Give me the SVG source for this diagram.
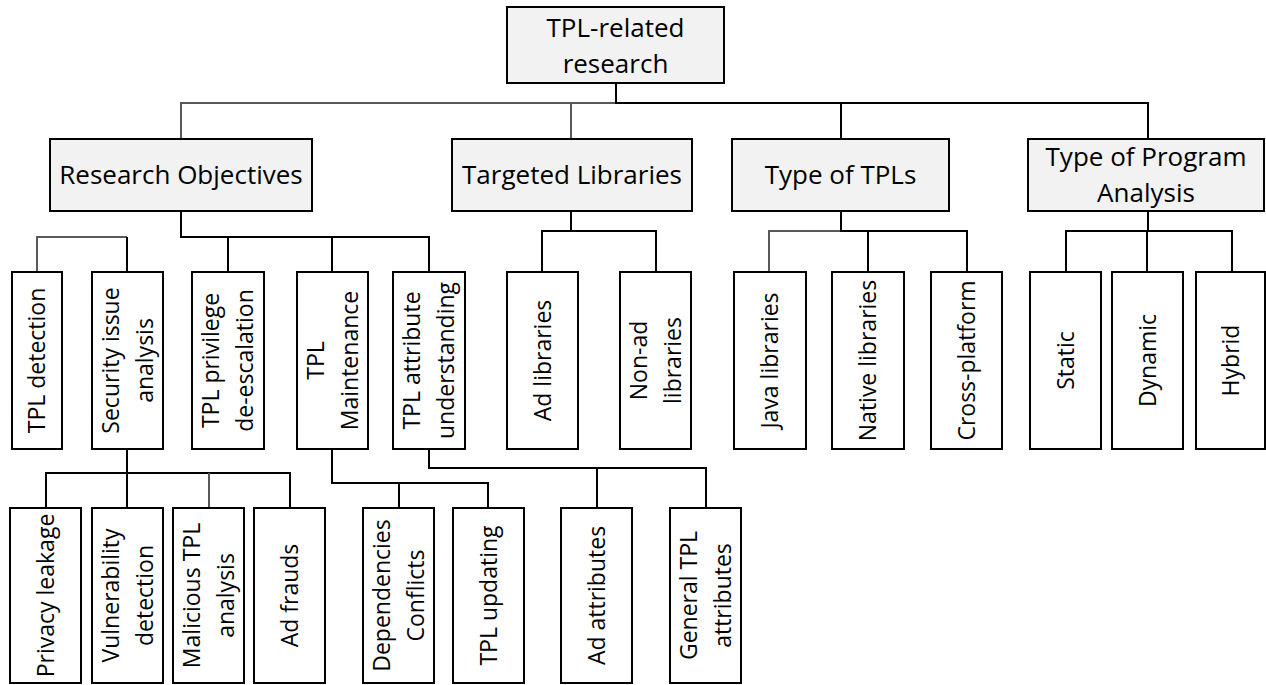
<svg xmlns="http://www.w3.org/2000/svg" width="1266" height="685" viewBox="0 0 1266 685">
<style>
.box{fill:#ffffff;stroke:#000;stroke-width:2}
.hbox{fill:#f2f2f2;stroke:#000;stroke-width:2}
.t{font-family:"Open Sans","Noto Sans",sans-serif;fill:#000;text-anchor:middle}
.l1{font-size:26px}
.l3{font-size:23px}
.c{fill:none;stroke:#000;stroke-width:2}
.g{stroke:#595959}
</style>
<rect width="1266" height="685" fill="#ffffff"/>
<g id="connectors">
  <path class="c g" d="M616,103 H181 V139 M571,103 V139"/>
  <path class="c" d="M616,83 V103 H1148 V139 M841,103 V139"/>
  <path class="c g" d="M127,237 H37 V272"/>
  <path class="c" d="M181,211 V237 H429 V272 M127,237 V272 M228,237 V272 M332,237 V272"/>
  <path class="c" d="M571,211 V231 M542,272 V231 H656 V272"/>
  <path class="c g" d="M841,231 H769 V272"/>
  <path class="c" d="M841,211 V231 H967 V272 M868,231 V272"/>
  <path class="c" d="M1148,211 V231 M1066,272 V231 H1232 V272 M1147,231 V272"/>
  <path class="c" d="M127,449 V473 M46,508 V473 H290 V508 M127,473 V508"/>
  <path class="c g" d="M209,473 V508"/>
  <path class="c" d="M332,449 V483 H488 V508 M399,483 V508"/>
  <path class="c" d="M429,449 V468 H706 V508 M597,468 V508"/>
</g>
<g id="root">
  <rect class="hbox" x="507" y="7" width="217" height="76"/>
  <text class="t l1" x="615.5" y="37">TPL-related</text>
  <text class="t l1" x="615.5" y="73">research</text>
</g>
<g id="research-objectives">
  <rect class="hbox" x="50" y="139" width="262" height="72"/>
  <text class="t l1" x="181" y="184">Research Objectives</text>
</g>
<g id="targeted-libraries">
  <rect class="hbox" x="452" y="139" width="240" height="72"/>
  <text class="t l1" x="572" y="184">Targeted Libraries</text>
</g>
<g id="type-of-tpls">
  <rect class="hbox" x="732" y="139" width="217" height="72"/>
  <text class="t l1" x="840.5" y="184">Type of TPLs</text>
</g>
<g id="type-of-program-analysis">
  <rect class="hbox" x="1028" y="139" width="236" height="72"/>
  <text class="t l1" x="1146" y="166">Type of Program</text>
  <text class="t l1" x="1146" y="202">Analysis</text>
</g>
<g id="tpl-detection">
  <rect class="box" x="12" y="272" width="50" height="177"/>
  <text class="t l3" transform="translate(37,360.5) rotate(-90)" y="8">TPL detection</text>
</g>
<g id="security-issue-analysis">
  <rect class="box" x="92" y="272" width="71" height="177"/>
  <g class="t l3" transform="translate(127.5,360.5) rotate(-90)"><text y="-9">Security issue</text><text y="25">analysis</text></g>
</g>
<g id="tpl-privilege">
  <rect class="box" x="192" y="272" width="72" height="177"/>
  <g class="t l3" transform="translate(228,360.5) rotate(-90)"><text y="-9">TPL privilege</text><text y="25">de-escalation</text></g>
</g>
<g id="tpl-maintenance">
  <rect class="box" x="297" y="272" width="71" height="177"/>
  <g class="t l3" transform="translate(332.5,360.5) rotate(-90)"><text y="-9">TPL</text><text y="25">Maintenance</text></g>
</g>
<g id="tpl-attribute">
  <rect class="box" x="393" y="272" width="72" height="177"/>
  <g class="t l3" transform="translate(429,360.5) rotate(-90)"><text y="-9">TPL attribute</text><text y="25">understanding</text></g>
</g>
<g id="ad-libraries">
  <rect class="box" x="507" y="272" width="71" height="177"/>
  <text class="t l3" transform="translate(542.5,360.5) rotate(-90)" y="8">Ad libraries</text>
</g>
<g id="non-ad-libraries">
  <rect class="box" x="620" y="272" width="71" height="177"/>
  <g class="t l3" transform="translate(655.5,360.5) rotate(-90)"><text y="-9">Non-ad</text><text y="25">libraries</text></g>
</g>
<g id="java-libraries">
  <rect class="box" x="734" y="272" width="72" height="177"/>
  <text class="t l3" transform="translate(770,360.5) rotate(-90)" y="8">Java libraries</text>
</g>
<g id="native-libraries">
  <rect class="box" x="832" y="272" width="72" height="177"/>
  <text class="t l3" transform="translate(868,360.5) rotate(-90)" y="8">Native libraries</text>
</g>
<g id="cross-platform">
  <rect class="box" x="931" y="272" width="71" height="177"/>
  <text class="t l3" transform="translate(966.5,360.5) rotate(-90)" y="8">Cross-platform</text>
</g>
<g id="static">
  <rect class="box" x="1030" y="272" width="71" height="177"/>
  <text class="t l3" transform="translate(1065.5,360.5) rotate(-90)" y="8">Static</text>
</g>
<g id="dynamic">
  <rect class="box" x="1112" y="272" width="71" height="177"/>
  <text class="t l3" transform="translate(1147.5,360.5) rotate(-90)" y="8">Dynamic</text>
</g>
<g id="hybrid">
  <rect class="box" x="1196" y="272" width="69" height="177"/>
  <text class="t l3" transform="translate(1230.5,360.5) rotate(-90)" y="8">Hybrid</text>
</g>
<g id="privacy-leakage">
  <rect class="box" x="10" y="508" width="71" height="175"/>
  <text class="t l3" transform="translate(45.5,595.5) rotate(-90)" y="8">Privacy leakage</text>
</g>
<g id="vulnerability-detection">
  <rect class="box" x="92" y="508" width="71" height="175"/>
  <g class="t l3" transform="translate(127.5,595.5) rotate(-90)"><text y="-9">Vulnerability</text><text y="25">detection</text></g>
</g>
<g id="malicious-tpl-analysis">
  <rect class="box" x="173" y="508" width="71" height="175"/>
  <g class="t l3" transform="translate(208.5,595.5) rotate(-90)"><text y="-9">Malicious TPL</text><text y="25">analysis</text></g>
</g>
<g id="ad-frauds">
  <rect class="box" x="254" y="508" width="71" height="175"/>
  <text class="t l3" transform="translate(289.5,595.5) rotate(-90)" y="8">Ad frauds</text>
</g>
<g id="dependencies-conflicts">
  <rect class="box" x="363" y="508" width="71" height="175"/>
  <g class="t l3" transform="translate(398.5,595.5) rotate(-90)"><text y="-9">Dependencies</text><text y="25">Conflicts</text></g>
</g>
<g id="tpl-updating">
  <rect class="box" x="453" y="508" width="71" height="175"/>
  <text class="t l3" transform="translate(488.5,595.5) rotate(-90)" y="8">TPL updating</text>
</g>
<g id="ad-attributes">
  <rect class="box" x="561" y="508" width="71" height="175"/>
  <text class="t l3" transform="translate(596.5,595.5) rotate(-90)" y="8">Ad attributes</text>
</g>
<g id="general-tpl-attributes">
  <rect class="box" x="670" y="508" width="71" height="175"/>
  <g class="t l3" transform="translate(705.5,595.5) rotate(-90)"><text y="-9">General TPL</text><text y="25">attributes</text></g>
</g>
</svg>
